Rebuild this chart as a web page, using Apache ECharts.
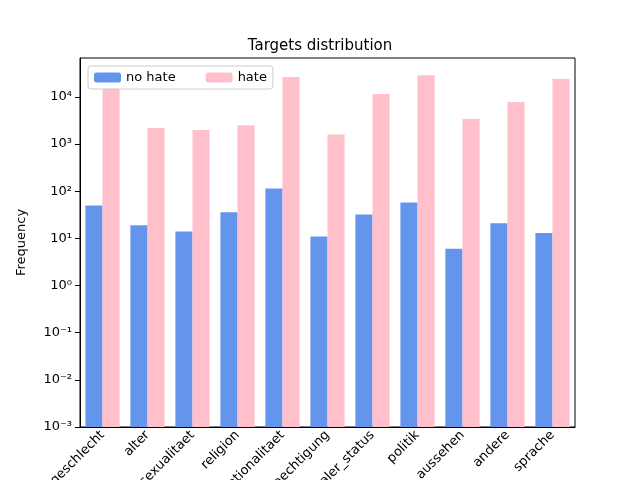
<!DOCTYPE html>
<html>
<head>
<meta charset="utf-8">
<script src="https://cdn.jsdelivr.net/npm/echarts@6/dist/echarts.min.js"></script>
<style>body{margin:0}#c{width:640px;height:480px}</style>
</head>
<body>
<div id="c"></div>
<script>
var categories = ['geschlecht', 'alter', 'sexualitaet', 'religion', 'nationalitaet', 'beeintraechtigung', 'sozialer_status', 'politik', 'aussehen', 'andere', 'sprache'];
var noHate = [50, 19, 14, 36, 115, 11, 32, 58, 6, 21, 13];
var hate = [15000, 2200, 2000, 2500, 26600, 1600, 11500, 29000, 3400, 7800, 24000];
var minExp = -3;
var supers = {'-': '⁻', '0': '⁰', '1': '¹', '2': '²', '3': '³', '4': '⁴'};

// log scale drawn on a linear axis so bars rise from the bottom (10^-3)
function toLog(v) { return Math.log10(v) - minExp; }

var chart = echarts.init(document.getElementById('c'));
chart.setOption({
  animation: false,
  title: {text: 'Targets distribution', left: 'center', top: 34,
    textStyle: {fontFamily: 'DejaVu Sans', fontSize: 15, fontWeight: 'normal', color: '#000'}},
  legend: {
    left: 88, top: 66, itemWidth: 27, itemHeight: 10, itemGap: 30,
    borderColor: '#ccc', borderWidth: 1, borderRadius: 3, padding: [5, 6],
    textStyle: {fontFamily: 'DejaVu Sans', fontSize: 13, color: '#000'},
    data: ['no hate', 'hate']
  },
  grid: {left: 80, right: 65, top: 58, bottom: 53, outerBoundsMode: 'none', containLabel: false,
    show: true, borderColor: '#000', borderWidth: 1},
  xAxis: {
    type: 'category', data: categories,
    axisLine: {lineStyle: {color: '#000'}},
    axisTick: {alignWithLabel: true, lineStyle: {color: '#000'}},
    axisLabel: {rotate: 45, interval: 0, color: '#000', fontFamily: 'DejaVu Sans', fontSize: 13, margin: 6}
  },
  yAxis: {
    type: 'value', min: 0, max: toLog(67000), interval: 1,
    name: 'Frequency', nameLocation: 'middle', nameGap: 52,
    nameTextStyle: {fontFamily: 'DejaVu Sans', fontSize: 13, color: '#000'},
    splitLine: {show: false},
    axisLine: {show: true, lineStyle: {color: '#000'}},
    axisTick: {show: true, lineStyle: {color: '#000'}},
    axisLabel: {color: '#000', fontFamily: 'DejaVu Sans', fontSize: 13, showMaxLabel: false,
      formatter: function (v) {
        var e = Math.round(v + minExp);
        return '10' + String(e).split('').map(function (c) { return supers[c]; }).join('');
      }}
  },
  series: [
    {name: 'no hate', type: 'bar', data: noHate.map(toLog), barWidth: '38%', barGap: '0%', itemStyle: {color: '#6495ed'}},
    {name: 'hate', type: 'bar', data: hate.map(toLog), barWidth: '38%', itemStyle: {color: '#ffc0cb'}}
  ]
});
</script>
</body>
</html>
